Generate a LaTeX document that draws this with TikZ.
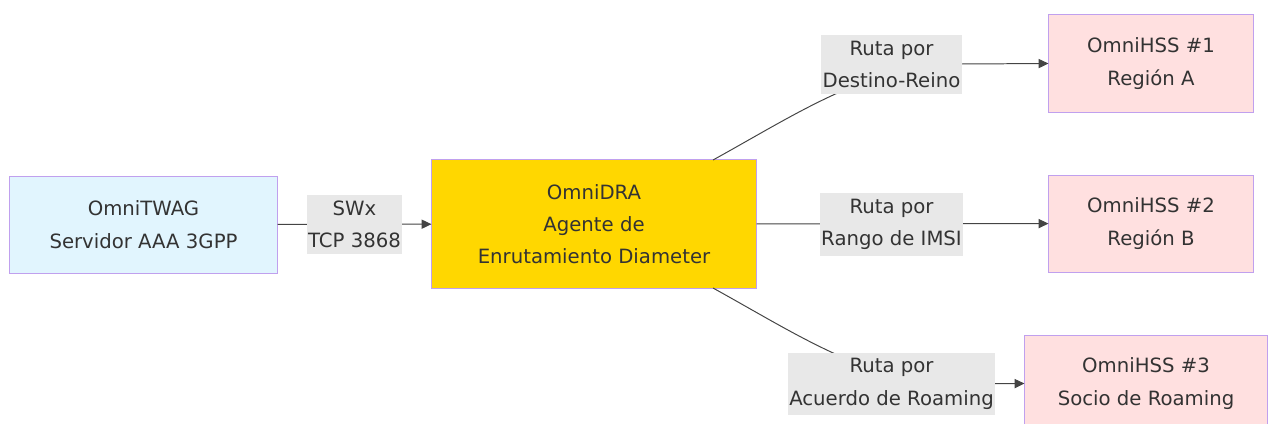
\documentclass[tikz,border=0pt]{standalone}
\usepackage{fontspec}
\setmainfont{DejaVu Sans}
\usepackage{xcolor}
\usetikzlibrary{arrows.meta}
\definecolor{borde}{HTML}{C0A0EE}
\definecolor{celeste}{HTML}{E1F5FE}
\definecolor{oro}{HTML}{FFD700}
\definecolor{rosa}{HTML}{FFE0E0}
\definecolor{etiq}{HTML}{E8E8E8}
\definecolor{texto}{HTML}{333333}
\definecolor{linea}{HTML}{444444}

\begin{document}
\begin{tikzpicture}[x=0.025cm,y=-0.025cm,
    caja/.style={draw=borde,line width=0.7pt,text=texto,align=center,
        font=\fontsize{14}{23}\selectfont,minimum height=2.425cm},
    etiqueta/.style={fill=etiq,text=texto,align=center,
        inner xsep=1pt,inner ysep=4pt,
        font=\fontsize{14}{23}\selectfont},
    flecha/.style={draw=linea,line width=0.7pt,-{Triangle[length=7pt,width=6.5pt]}}]
    \useasboundingbox (0,0) rectangle (1268,423);
    % nodos
    \node[caja,fill=celeste,minimum width=6.675cm] (twag) at (143.5,224.5) {OmniTWAG\\Servidor AAA 3GPP};
    \node[caja,fill=oro,minimum width=8.1cm,minimum height=3.2cm] (dra) at (594,224) {OmniDRA\\Agente de\\Enrutamiento Diameter};
    \node[caja,fill=rosa,minimum width=5.1cm] (hss1) at (1151,63.5) {OmniHSS \#1\\Región A};
    \node[caja,fill=rosa,minimum width=5.1cm] (hss2) at (1151,223.5) {OmniHSS \#2\\Región B};
    \node[caja,fill=rosa,minimum width=6.05cm] (hss3) at (1146,383.5) {OmniHSS \#3\\Socio de Roaming};
    % puntos de salida
    \coordinate (s1) at (713,160);
    \coordinate (s3) at (713,288);
    % conectores
    \draw[flecha] (twag) -- (dra);
    \draw[flecha] (dra) -- (hss2);
    \draw[flecha] (s1) .. controls (800,112) and (870,64) .. (960,64) -- (hss1.west);
    \draw[flecha] (s3) .. controls (800,336) and (870,384) .. (960,384) -- (hss3.west);
    % etiquetas
    \node[etiqueta] (e0) at (354.5,224.5) {SWx\\TCP 3868};
    \node[etiqueta] (e1) at (891.5,64.5) {Ruta por\\Destino-Reino};
    \node[etiqueta] (e2) at (891.5,224.5) {Ruta por\\Rango de IMSI};
    \node[etiqueta] (e3) at (891.5,384) {Ruta por\\Acuerdo de Roaming};
\end{tikzpicture}
\end{document}
